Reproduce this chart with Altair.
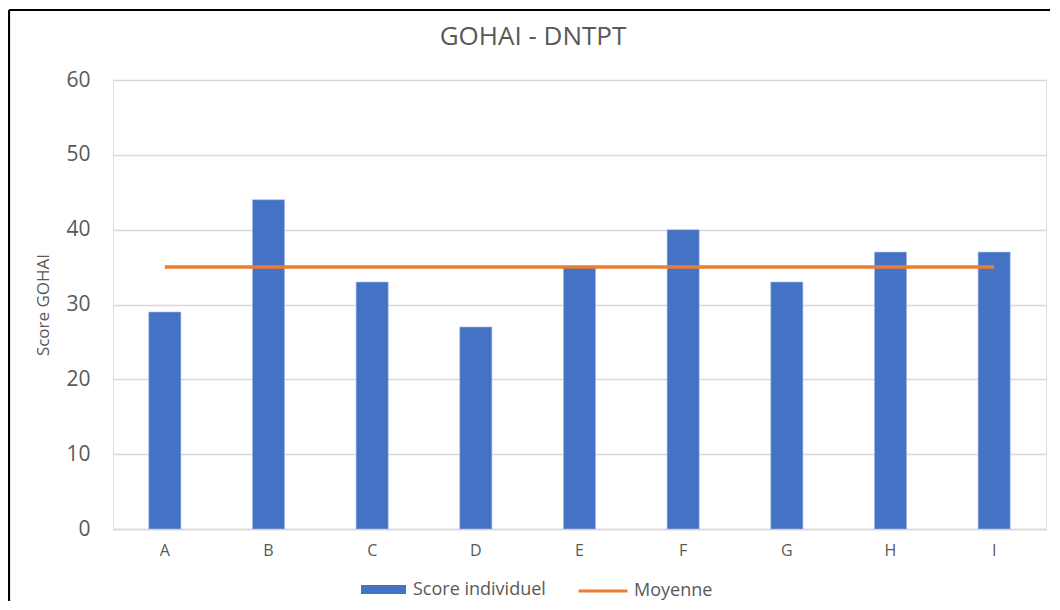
import altair as alt
import pandas as pd

categories = ["A", "B", "C", "D", "E", "F", "G", "H", "I"]
scores = [29, 44, 33, 27, 35, 40, 33, 37, 37]
moyenne = [35, 35, 35, 35, 35, 35, 35, 35, 35]
y_ticks = [0, 10, 20, 30, 40, 50, 60]
chart_title = "GOHAI - DNTPT"

df = pd.DataFrame({"cat": categories, "score": scores, "moy": moyenne})

GRAY = "#595959"
FONT = "Open Sans"

x_enc = alt.X("cat:N", sort=categories,
              scale=alt.Scale(paddingInner=0.69, paddingOuter=0.345),
              axis=alt.Axis(title=None, labelAngle=0, labelFontSize=16, labelColor=GRAY,
                            labelFont=FONT, labelPadding=13, ticks=False,
                            domainColor="#D9D9D9", domainWidth=1.5, grid=False))
y_scale = alt.Scale(domain=[0, 60], nice=False)

bars = alt.Chart(df).transform_calculate(serie="'Score individuel'").mark_bar(
    stroke="#A9BEE6", strokeWidth=0.6).encode(
    x=x_enc,
    y=alt.Y("score:Q", scale=y_scale,
            axis=alt.Axis(values=y_ticks, title="Score GOHAI", titleFont=FONT,
                          titleFontSize=17, titleFontWeight="normal", titleColor=GRAY,
                          titlePadding=13, labelFontSize=21, labelColor=GRAY, labelFont=FONT,
                          labelPadding=23, ticks=False, domain=False,
                          gridColor="#D9D9D9", gridWidth=1.3)),
    color=alt.Color("serie:N", scale=alt.Scale(domain=["Score individuel"], range=["#4472C4"]),
                    legend=alt.Legend(title=None, orient="none", legendX=248, legendY=487,
                                      symbolType="M-1,-0.2H1V0.2H-1Z", symbolSize=2025,
                                      symbolStrokeWidth=0, symbolOpacity=1,
                                      labelFontSize=18, labelColor=GRAY, labelFont=FONT,
                                      labelOffset=7, padding=0)),
)

line = alt.Chart(df).transform_calculate(serie2="'Moyenne'").mark_line(strokeWidth=3.5).encode(
    x=alt.X("cat:N", sort=categories),
    y=alt.Y("moy:Q", scale=y_scale),
    stroke=alt.Stroke("serie2:N", scale=alt.Scale(domain=["Moyenne"], range=["#ED7D31"]),
                      legend=alt.Legend(title=None, orient="none", legendX=464, legendY=485,
                                        symbolType="stroke", symbolSize=2401,
                                        symbolStrokeWidth=3, labelFontSize=18,
                                        labelColor=GRAY, labelFont=FONT,
                                        labelOffset=5, padding=0)),
)

frame_data = alt.Data(values=[{"t": chart_title}])
title_mark = alt.Chart(frame_data).mark_text(
    font=FONT, fontSize=26, color=GRAY, align="center", baseline="middle").encode(
    text="t:N", x=alt.value(420), y=alt.value(-43))
border_v = alt.Chart(frame_data).mark_rule(color="#000000", strokeWidth=2.2, clip=False).encode(
    x=alt.value(-104), y=alt.value(-70), y2=alt.value(700))
border_h = alt.Chart(frame_data).mark_rule(color="#000000", strokeWidth=2.2, clip=False).encode(
    x=alt.value(-104), x2=alt.value(1100), y=alt.value(-70))

chart = alt.layer(bars, line, title_mark, border_v, border_h).properties(
    width=933, height=449,
    padding={"left": 105, "top": 72, "right": 4, "bottom": 72},
    autosize=alt.AutoSizeParams(type="none"),
).configure_view(stroke=None).configure(background="white")

chart.save("out.html", embed_options={"renderer": "svg", "actions": False})
